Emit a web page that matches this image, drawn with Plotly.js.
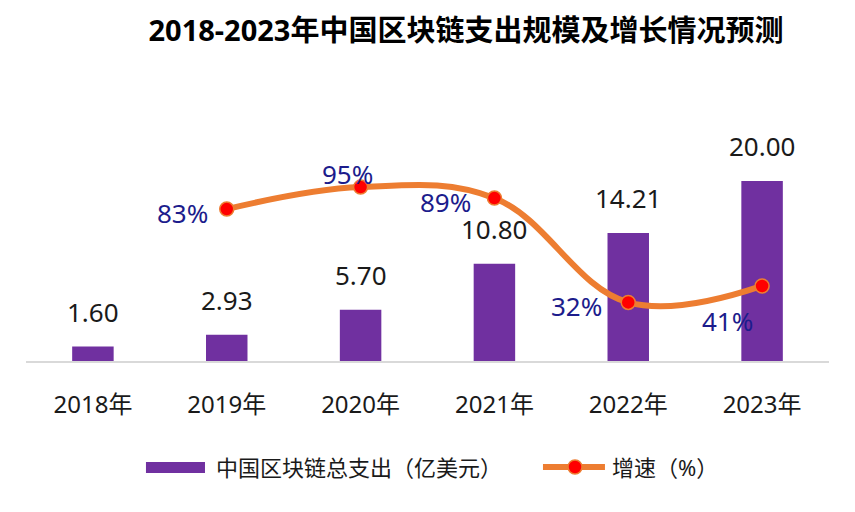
<!DOCTYPE html>
<html><head><meta charset="utf-8">
<script src="https://cdn.plot.ly/plotly-3.0.1.min.js"></script>
<style>html,body{margin:0;padding:0;background:#fff;}#chart{width:855px;height:512px;}</style>
</head><body><div id="chart"></div>
<script>
const years = ["2018年","2019年","2020年","2021年","2022年","2023年"];
const spending = [1.60, 2.93, 5.70, 10.80, 14.21, 20.00];
const growthYears = ["2019年","2020年","2021年","2022年","2023年"];
const growth = [83, 95, 89, 32, 41];
const barName = "中国区块链总支出（亿美元）";
const lineName = "增速（%）";

const FONT = "'Noto Sans', 'Noto Sans CJK SC', sans-serif";
const BAR_COLOR = '#7030A0', LINE_COLOR = '#ED7D31', MARK_COLOR = '#FF0000';
const growthShifts = [[-44,-4],[-13,13],[-49,-4],[-52,-4],[-35,-35]];

const annotations = [];
years.forEach((y,i)=>{
  annotations.push({x:y, y:spending[i], xref:'x', yref:'y', text:spending[i].toFixed(2),
    showarrow:false, yanchor:'bottom', yshift:15, font:{family:FONT,size:26,color:'#1a1a1a'}});
});
growthYears.forEach((y,i)=>{
  annotations.push({x:y, y:growth[i], xref:'x', yref:'y2', text:growth[i]+'%',
    showarrow:false, xshift:growthShifts[i][0], yshift:growthShifts[i][1],
    font:{family:FONT,size:26,color:'#1c1c8c'}});
});
// legend texts
const legY = -0.4061;
annotations.push({xref:'paper', yref:'paper', x:0.2341, y:legY, xanchor:'left', yanchor:'middle',
  text:barName, showarrow:false, font:{family:FONT,size:22,color:'#1a1a1a'}});
annotations.push({xref:'paper', yref:'paper', x:0.7273, y:legY, xanchor:'left', yanchor:'middle',
  text:lineName, showarrow:false, font:{family:FONT,size:22,color:'#1a1a1a'}});

const shapes = [
  {type:'rect', xref:'paper', yref:'paper', x0:0.1494, x1:0.2229, y0:-0.4291, y1:-0.3870,
    fillcolor:BAR_COLOR, line:{width:0}},
  {type:'line', xref:'paper', yref:'paper', x0:0.6438, x1:0.7210, y0:legY, y1:legY,
    line:{color:LINE_COLOR, width:6}},
  {type:'circle', xref:'paper', yref:'paper', xsizemode:'pixel', ysizemode:'pixel',
    xanchor:0.6837, yanchor:legY, x0:-7, x1:7, y0:-7, y1:7,
    fillcolor:MARK_COLOR, line:{color:LINE_COLOR, width:1.5}}
];

const data = [
  {type:'bar', x:years, y:spending, name:barName, marker:{color:BAR_COLOR}, width:0.31, yaxis:'y'},
  {type:'scatter', mode:'lines+markers', x:growthYears, y:growth, name:lineName, yaxis:'y2',
    line:{color:LINE_COLOR, width:6, shape:'spline', smoothing:1.1},
    marker:{color:MARK_COLOR, size:14, line:{color:LINE_COLOR, width:1.5}}}
];

const layout = {
  width:855, height:512,
  margin:{l:26, r:26, t:100, b:151},
  paper_bgcolor:'#fff', plot_bgcolor:'#fff',
  font:{family:FONT, color:'#1a1a1a'},
  title:{text:'<b>2018-2023年中国区块链支出规模及增长情况预测</b>', x:0.545, xanchor:'center', y:0.94, yanchor:'middle',
    font:{family:FONT, size:29, color:'#000'}},
  xaxis:{type:'category', showline:true, linecolor:'#d9d9d9', linewidth:1.5, showgrid:false, zeroline:false,
    ticks:'', ticklabelstandoff:22, tickfont:{family:FONT, size:24, color:'#1a1a1a'}, fixedrange:true},
  yaxis:{range:[0,29], visible:false, showgrid:false, zeroline:false},
  yaxis2:{range:[0,142.6], overlaying:'y', side:'right', visible:false, showgrid:false, zeroline:false},
  showlegend:false,
  annotations:annotations,
  shapes:shapes
};
Plotly.newPlot('chart', data, layout, {displayModeBar:false, staticPlot:true});
</script></body></html>
